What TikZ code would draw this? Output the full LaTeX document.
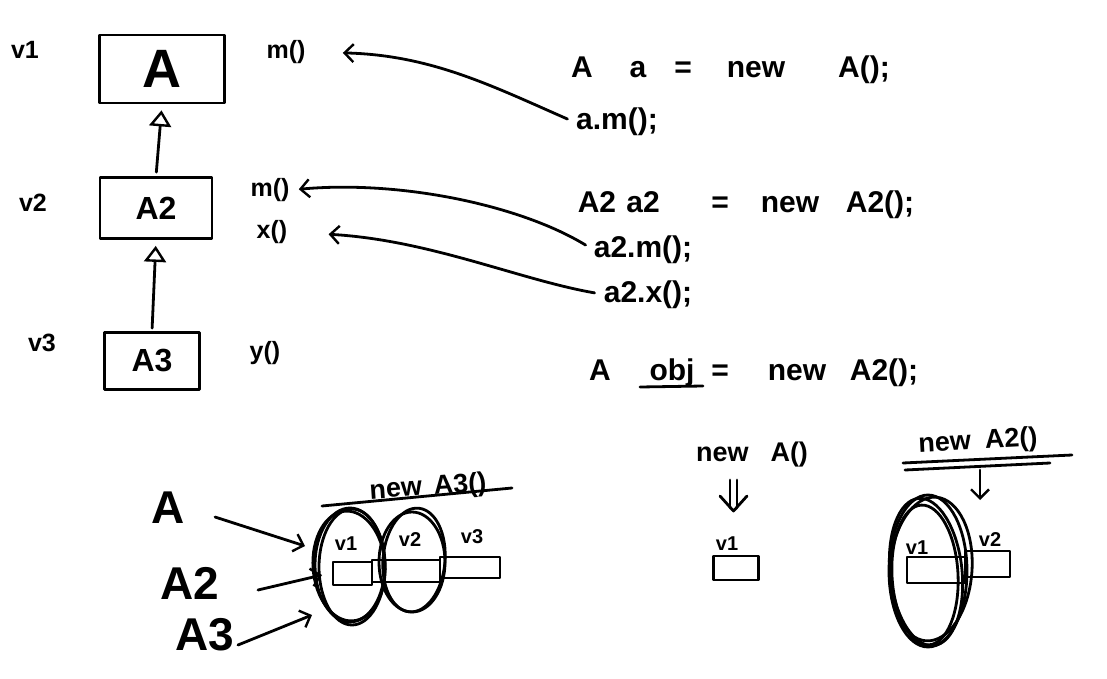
\documentclass[tikz,border=0pt]{standalone}
\usepackage{fontspec}
\setmainfont{Liberation Sans}
\usetikzlibrary{arrows.meta,shapes.geometric}
\begin{document}
\begin{tikzpicture}[x=1pt,y=-1pt,line width=2.8pt,line cap=round,line join=round,
  lbl/.style={inner sep=0pt,font=\fontsize{25}{28}\selectfont\bfseries},
  small/.style={inner sep=0pt,font=\fontsize{20}{22}\selectfont\bfseries},
  code/.style={inner sep=0pt,anchor=base,font=\fontsize{30}{36}\selectfont\bfseries},
  cls/.style={draw,inner sep=0pt,font=\fontsize{32}{36}\selectfont\bfseries},
  inh/.style={-{Triangle[open,length=16pt,width=22pt,line width=2.4pt]}},
  arr/.style={-{Straight Barb[length=9pt,width=18pt,line width=2.4pt]}},
  cell/.style={draw,inner sep=0pt},
  big/.style={inner sep=0pt,font=\fontsize{46}{50}\selectfont\bfseries},
  note/.style={inner sep=0pt,font=\fontsize{27}{32}\selectfont\bfseries}]
\useasboundingbox[fill=white] (0,0) rectangle (1107,679);

% class hierarchy
\node[cls,minimum width=125pt,minimum height=68pt,font=\fontsize{54}{58}\selectfont\bfseries] (A) at (162,69) {A};
\node[cls,minimum width=112pt,minimum height=61pt] (A2) at (156,208) {A2};
\node[cls,minimum width=95pt,minimum height=57pt] (A3) at (152,361) {A3};
\draw[inh,shorten >=6pt,shorten <=4pt] (A2.north) -- (A.south);
\draw[inh,shorten >=6pt,shorten <=3pt] (A3.north) -- (A2.south);

\node[lbl] (v1) at (25,50) {v1};
\node[lbl] (v2) at (33,203) {v2};
\node[lbl] (v3) at (42,343) {v3};
\node[lbl] (m1) at (286,52) {m()};
\node[lbl] (m2) at (270,190) {m()};
\node[lbl] (x2) at (272,232) {x()};
\node[lbl] (y3) at (265,353) {y()};

% code
\node[code] (c1a) at (582,78) {A};
\node[code] (c1b) at (638,78) {a};
\node[code] (c1c) at (683,78) {=};
\node[code] (c1d) at (756,78) {new};
\node[code] (c1e) at (864,78) {A();};
\node[code] (am) at (617,130) {a.m();};

\node[code] (c3a) at (597,212) {A2};
\node[code] (c3b) at (643,212) {a2};
\node[code] (c3c) at (720,212) {=};
\node[code] (c3d) at (790,212) {new};
\node[code] (c3e) at (880,212) {A2();};
\node[code] (a2m) at (643,257) {a2.m();};
\node[code] (a2x) at (648,302) {a2.x();};

\node[code] (c6a) at (600,380) {A};
\node[code] (obj) at (672,380) {obj};
\node[code] (c6c) at (720,380) {=};
\node[code] (c6d) at (797,380) {new};
\node[code] (c6e) at (884,380) {A2();};
\coordinate (u1) at (640,387);
\coordinate (u2) at (703,386);
\draw (u1) -- (u2);

\draw[arr,shorten <=8pt,shorten >=36pt] (am.west) .. controls (490,85) and (430,55) .. (m1.east);
\draw[arr,shorten <=8pt,shorten >=8pt] (a2m.west) .. controls (520,205) and (400,180) .. (m2.east);
\draw[arr,shorten <=8pt,shorten >=40pt] (a2x.west) .. controls (520,280) and (430,240) .. (x2.east);

% bottom left: new A3()
\node[note,rotate=4] (n3) at (428,488) {new\hspace{12pt}A3()};
\coordinate (l1) at (322,506);
\coordinate (l2) at (512,488);
\draw (l1) -- (l2);

\node[cell,minimum width=39pt,minimum height=23pt] (b1) at (352.5,573.5) {};
\node[cell,minimum width=68pt,minimum height=22pt] (b2) at (406,571) {};
\node[cell,minimum width=60pt,minimum height=21pt] (b3) at (470,567.5) {};
\node[draw,ellipse,minimum width=70pt,minimum height=114pt,inner sep=0pt] (e1) at (350,565) {};
\draw (352,567) ellipse [x radius=33,y radius=58];
\draw[rotate around={4:(349,566)}] (349,566) ellipse [x radius=36,y radius=55];
\node[draw,ellipse,minimum width=66pt,minimum height=100pt,inner sep=0pt] (e2) at (412,562) {};
\draw[rotate around={-5:(414,560)}] (414,560) ellipse [x radius=31,y radius=52];
\node[small] (bv1) at (346,544) {v1};
\node[small] (bv2) at (410,540) {v2};
\node[small] (bv3) at (472,537) {v3};

\node[big] (bA) at (168,508) {A};
\node[big] (bA2) at (190,583) {A2};
\node[big] (bA3) at (205,635) {A3};
\coordinate (s1) at (215,517); \coordinate (t1) at (305,546);
\coordinate (s2) at (258,590); \coordinate (t2) at (322,575);
\coordinate (s3) at (238,645); \coordinate (t3) at (312,615);
\draw[arr] (s1) -- (t1);
\draw[arr] (s2) -- (t2);
\draw[arr] (s3) -- (t3);

% middle: new A()
\node[note] (nA) at (752,455) {new\hspace{22pt}A()};
\coordinate (d1) at (730,480); \coordinate (d2) at (730,508);
\coordinate (d3) at (737,480); \coordinate (d4) at (737,508);
\draw (d1) -- (d2);
\draw (d3) -- (d4);
\coordinate (h1) at (720,496); \coordinate (h2) at (733.5,511); \coordinate (h3) at (747,496);
\draw (h1) -- (h2) -- (h3);
\node[cell,minimum width=45pt,minimum height=24pt] (mv1) at (736,568) {};
\node[small] (mlv1) at (727,544) {v1};

% right: new A2()
\node[note,rotate=3] (nA2) at (978,442) {new\hspace{14pt}A2()};
\coordinate (r1) at (903,463); \coordinate (r2) at (1072,455);
\coordinate (r3) at (905,470); \coordinate (r4) at (1050,463);
\draw (r1) -- (r2);
\draw (r3) -- (r4);
\coordinate (ra) at (980,470); \coordinate (rb) at (980,500);
\draw[arr] (ra) -- (rb);
\node[cell,minimum width=58pt,minimum height=26pt] (rv1) at (936,570) {};
\node[cell,minimum width=45pt,minimum height=26pt] (rv2) at (987.5,564) {};
\node[draw,ellipse,minimum width=78pt,minimum height=152pt,inner sep=0pt] (re) at (928,571) {};
\draw[rotate around={6:(926,572)}] (926,572) ellipse [x radius=36,y radius=74];
\draw[rotate around={-4:(931,569)}] (931,569) ellipse [x radius=41,y radius=72];
\draw[rotate around={3:(925,575)}] (925,575) ellipse [x radius=33,y radius=70];
\node[small] (rlv1) at (917,548) {v1};
\node[small] (rlv2) at (990,540) {v2};
\end{tikzpicture}
\end{document}
